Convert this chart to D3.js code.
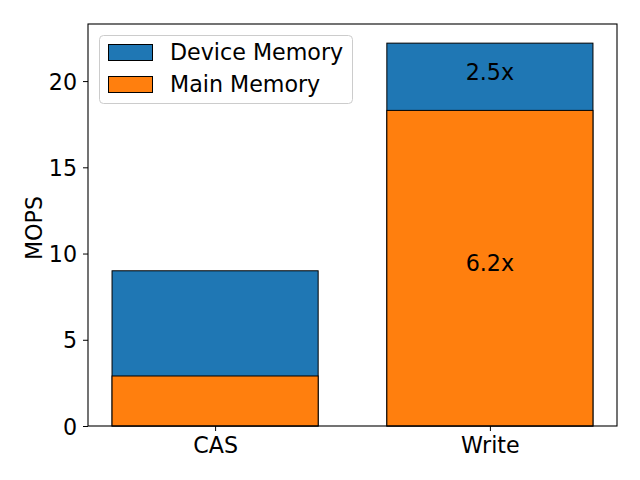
<!DOCTYPE html>
<html>
<head>
<meta charset="utf-8">
<script src="https://cdn.jsdelivr.net/npm/d3@7"></script>
<style>
  html, body { margin: 0; padding: 0; background: #fff; }
  svg text { font-family: "DejaVu Sans", sans-serif; fill: #000; }
</style>
</head>
<body>
<svg id="chart" width="640" height="480"></svg>
<script>
const categories = ["CAS", "Write"];
const deviceMemory = [9.0, 22.2];
const mainMemory = [2.9, 18.3];
const deviceLabels = [null, "2.5x"];
const mainLabels = [null, "6.2x"];
const yTicks = [0, 5, 10, 15, 20];
const seriesNames = ["Device Memory", "Main Memory"];
const colors = ["#1f77b4", "#ff7f0e"];

const svg = d3.select("#chart");
const pL = 88, pR = 617, pT = 24, pB = 426;
const barWidth = 0.75;
const fs = "22.2px";

const x = d3.scaleLinear().domain([-0.4625, 1.4625]).range([pL, pR]);
const yMax = d3.max(deviceMemory.concat(mainMemory)) * 1.05;
const y = d3.scaleLinear().domain([0, yMax]).range([pB, pT]);

const g = svg.append("g");

// Device memory bars (behind)
g.selectAll("rect.dev").data(deviceMemory).join("rect")
  .attr("class", "dev")
  .attr("x", (d, i) => x(i - barWidth / 2))
  .attr("width", (d, i) => x(i + barWidth / 2) - x(i - barWidth / 2))
  .attr("y", d => y(d))
  .attr("height", d => y(0) - y(d))
  .attr("fill", colors[0]).attr("stroke", "#000").attr("stroke-width", 1);

// Main memory bars (front)
g.selectAll("rect.main").data(mainMemory).join("rect")
  .attr("class", "main")
  .attr("x", (d, i) => x(i - barWidth / 2))
  .attr("width", (d, i) => x(i + barWidth / 2) - x(i - barWidth / 2))
  .attr("y", d => y(d))
  .attr("height", d => y(0) - y(d))
  .attr("fill", colors[1]).attr("stroke", "#000").attr("stroke-width", 1);

// Labels
deviceLabels.forEach((t, i) => {
  if (!t) return;
  g.append("text").attr("x", x(i)).attr("y", y((deviceMemory[i] + mainMemory[i]) / 2))
    .attr("dy", 3).attr("text-anchor", "middle").style("font-size", fs).text(t);
});
mainLabels.forEach((t, i) => {
  if (!t) return;
  g.append("text").attr("x", x(i)).attr("y", y(mainMemory[i] / 2))
    .attr("dy", 3).attr("text-anchor", "middle").style("font-size", fs).text(t);
});

// Axes
const yAxis = d3.axisLeft(y).tickValues(yTicks).tickSize(5).tickPadding(6).tickFormat(d3.format("d"));
const ya = svg.append("g").attr("transform", `translate(${pL},0)`).call(yAxis);
ya.select(".domain").remove();
ya.selectAll("text").style("font-size", fs).attr("fill", "#000").attr("dy", "0.36em");
ya.selectAll("line").attr("stroke", "#000");

const xAxis = d3.axisBottom(x).tickValues([0, 1]).tickSize(5).tickPadding(6).tickFormat(i => categories[i]);
const xa = svg.append("g").attr("transform", `translate(0,${pB})`).call(xAxis);
xa.select(".domain").remove();
xa.selectAll("text").style("font-size", fs).attr("fill", "#000");
xa.selectAll("line").attr("stroke", "#000");

// Spines
svg.append("rect").attr("x", pL).attr("y", pT).attr("width", pR - pL).attr("height", pB - pT)
  .attr("fill", "none").attr("stroke", "#000").attr("stroke-width", 1.1);

// Y label
svg.append("text").attr("transform", `translate(42,${(pT + pB) / 2 + 3}) rotate(-90)`)
  .attr("text-anchor", "middle").style("font-size", fs).text("MOPS");

// Legend
const lg = svg.append("g");
lg.append("rect").attr("x", 99.5).attr("y", 35.5).attr("width", 253).attr("height", 68)
  .attr("rx", 4).attr("fill", "#fff").attr("fill-opacity", 0.8).attr("stroke", "#cccccc").attr("stroke-width", 1);
seriesNames.forEach((n, i) => {
  lg.append("rect").attr("x", 108.5).attr("y", 44.5 + i * 32).attr("width", 44).attr("height", 16)
    .attr("fill", colors[i]).attr("stroke", "#000").attr("stroke-width", 1);
  lg.append("text").attr("x", 170).attr("y", 59.5 + i * 32).style("font-size", fs).text(n);
});
</script>
</body>
</html>
